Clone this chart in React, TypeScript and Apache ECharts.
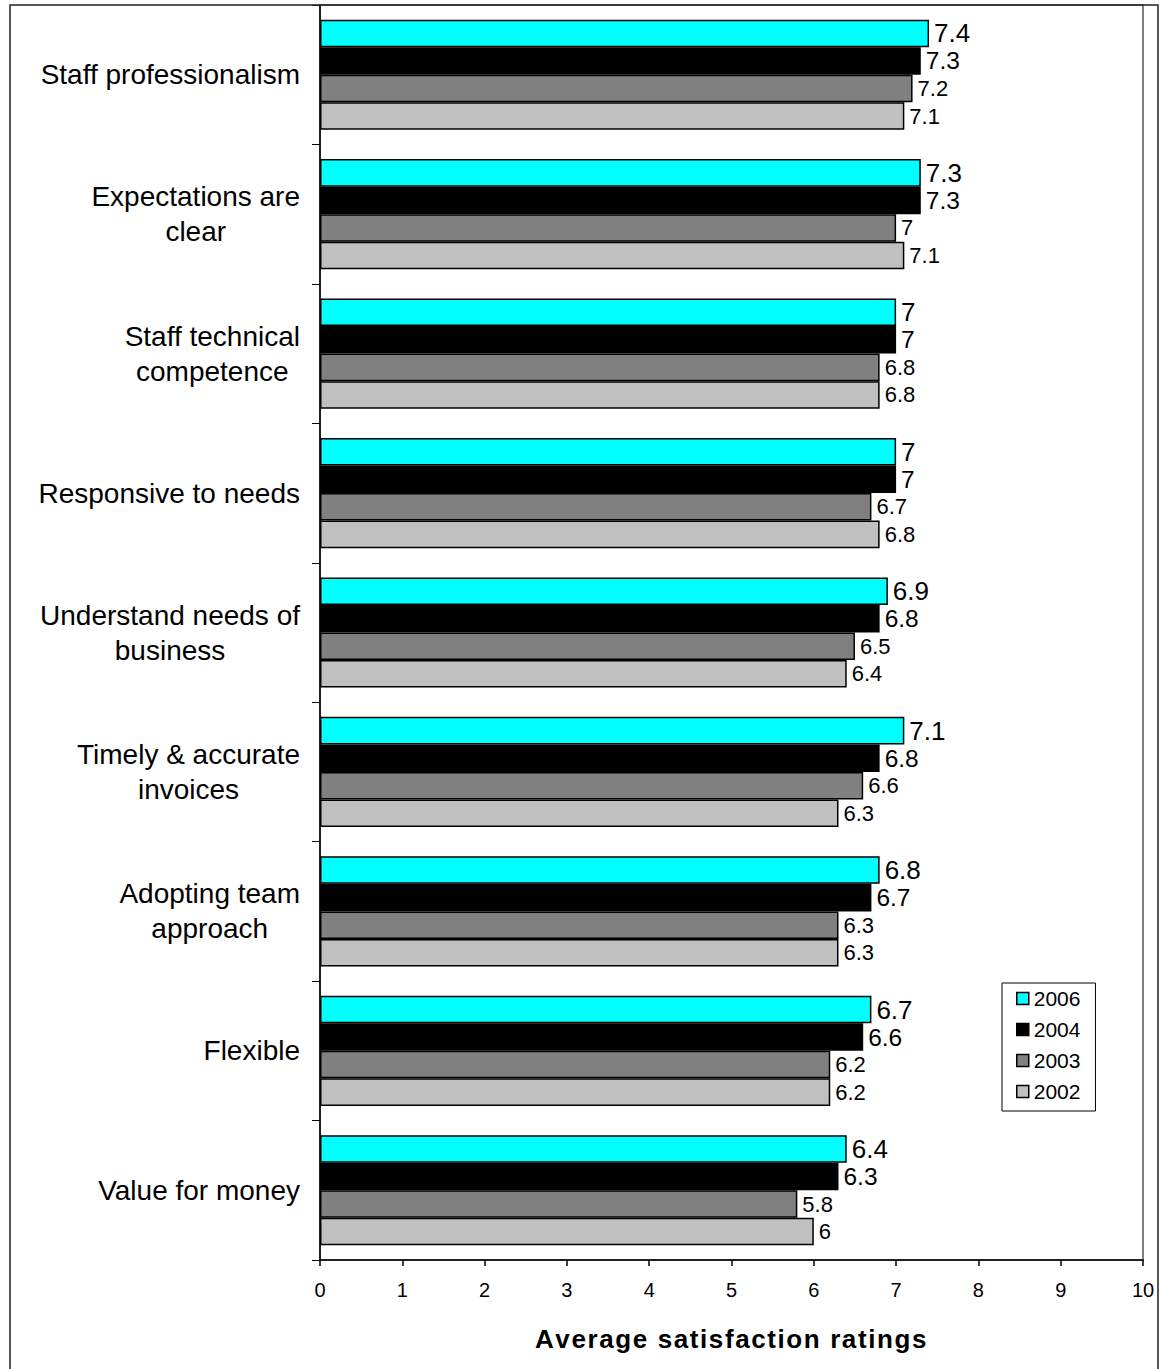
import React, { useEffect, useRef } from "react";
import * as echarts from "echarts";

const categories = [
  "Staff professionalism",
  "Expectations are\nclear",
  "Staff technical\ncompetence",
  "Responsive to needs",
  "Understand needs of\nbusiness",
  "Timely & accurate\ninvoices",
  "Adopting team\napproach",
  "Flexible",
  "Value for money",
];
const years = ["2006", "2004", "2003", "2002"];
const values2006 = [7.4, 7.3, 7.0, 7.0, 6.9, 7.1, 6.8, 6.7, 6.4];
const values2004 = [7.3, 7.3, 7.0, 7.0, 6.8, 6.8, 6.7, 6.6, 6.3];
const values2003 = [7.2, 7.0, 6.8, 6.7, 6.5, 6.6, 6.3, 6.2, 5.8];
const values2002 = [7.1, 7.1, 6.8, 6.8, 6.4, 6.3, 6.3, 6.2, 6.0];
const xTicks = [0, 1, 2, 3, 4, 5, 6, 7, 8, 9, 10];
const axisTitle = "Average satisfaction ratings";

const FONT = "'Liberation Sans', Arial, Helvetica, sans-serif";
const colors = ["#00FFFF", "#000000", "#808080", "#C0C0C0"];
const labelSizes = [26, 24.5, 22, 22];
const seriesValues = [values2006, values2004, values2003, values2002];

export default function App() {
  const ref = useRef<HTMLDivElement>(null);
  useEffect(() => {
    if (!ref.current) return;
    const chart = echarts.init(ref.current, undefined, { renderer: "svg" });
    const spacedTitle = axisTitle
      .split("")
      .map((c) => `{s|${c}}`)
      .join("");
    chart.setOption({
      animation: false,
      backgroundColor: "#ffffff",
      textStyle: { fontFamily: FONT },
      grid: {
        left: 320,
        right: 19,
        top: 5,
        bottom: 109,
        show: true,
        borderColor: "#808080",
        borderWidth: 2,
        backgroundColor: "transparent",
      },
      legend: {
        data: years,
        orient: "vertical",
        left: 1002,
        top: 983,
        padding: [5, 15, 9, 14],
        itemGap: 10,
        itemWidth: 12,
        itemHeight: 12,
        icon: "rect",
        backgroundColor: "#ffffff",
        borderColor: "#000000",
        borderWidth: 1,
        textStyle: { fontSize: 21, color: "#000", fontFamily: FONT },
        itemStyle: { borderColor: "#000", borderWidth: 1.5 },
      },
      xAxis: {
        type: "value",
        min: xTicks[0],
        max: xTicks[xTicks.length - 1],
        interval: 1,
        axisLine: { show: true, lineStyle: { color: "#000", width: 1.5 } },
        axisTick: { show: true, length: 6, lineStyle: { color: "#000", width: 1.5 } },
        splitLine: { show: false },
        axisLabel: { fontSize: 20, color: "#000", margin: 20, fontFamily: FONT },
        name: spacedTitle,
        nameLocation: "middle",
        nameGap: 66,
        nameTextStyle: {
          fontSize: 26,
          fontWeight: "bold",
          color: "#000",
          fontFamily: FONT,
          rich: {
            s: {
              fontSize: 26,
              fontWeight: "bold",
              color: "#000",
              fontFamily: FONT,
              padding: [0, 1.6, 0, 0],
            },
          },
        },
      },
      yAxis: {
        type: "category",
        data: categories,
        inverse: true,
        axisLine: { show: true, lineStyle: { color: "#000", width: 1.5 } },
        axisTick: { show: true, length: 8, lineStyle: { color: "#000", width: 1 } },
        splitLine: { show: false },
        axisLabel: {
          margin: 20,
          color: "#000",
          fontFamily: FONT,
          fontSize: 28,
          lineHeight: 35,
          formatter: (v: string) =>
            v
              .split("\n")
              .map((l) => `{c|${l}}`)
              .join("\n"),
          rich: {
            c: { align: "center", fontSize: 28, lineHeight: 35, color: "#000", fontFamily: FONT },
          },
        },
      },
      series: years.map((y, i) => ({
        name: y,
        type: "bar",
        data: seriesValues[i],
        barGap: "0%",
        barCategoryGap: "21%",
        itemStyle: { color: colors[i], borderColor: "#000", borderWidth: 1.5 },
        label: {
          show: true,
          position: "right",
          distance: 5,
          fontSize: labelSizes[i],
          color: "#000",
          fontFamily: FONT,
        },
      })),
      graphic: [
        {
          type: "rect",
          silent: true,
          z: 100,
          shape: { x: 10, y: 5, width: 1148, height: 1400 },
          style: { fill: "none", stroke: "#222", lineWidth: 1.5 },
        },
      ],
    });
    return () => chart.dispose();
  }, []);
  return (
    <div
      ref={ref}
      style={{ position: "absolute", left: 0, top: 0, width: 1162, height: 1369 }}
    />
  );
}
